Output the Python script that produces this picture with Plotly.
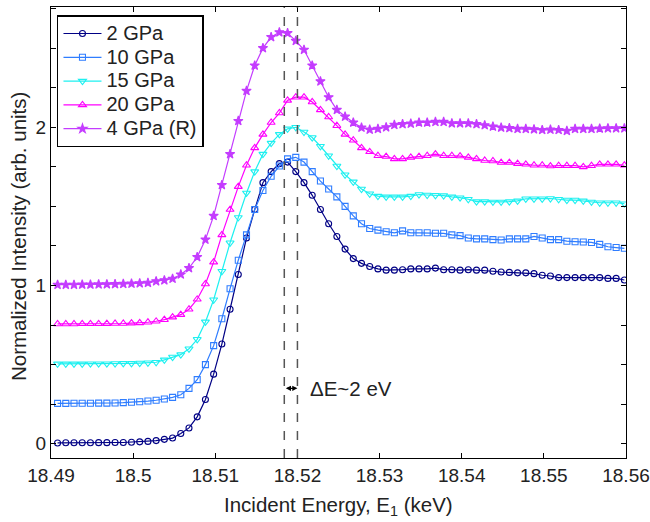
import plotly.graph_objects as go

# ---- data ----
energy_start = 18.4908
energy_step = 0.001
n_points = 70
energy = [round(energy_start + energy_step * i, 4) for i in range(n_points)]

gpa2 = [0.005, 0.006, 0.006, 0.006, 0.006, 0.007, 0.007, 0.008, 0.008, 0.010,
        0.012, 0.015, 0.020, 0.028, 0.036, 0.065, 0.10, 0.17, 0.28, 0.44,
        0.63, 0.85, 1.07, 1.30, 1.48, 1.65, 1.72, 1.77, 1.78, 1.72,
        1.65, 1.57, 1.48, 1.39, 1.31, 1.23, 1.17, 1.14, 1.12, 1.105,
        1.097, 1.097, 1.10, 1.105, 1.105, 1.105, 1.11, 1.10, 1.10, 1.097,
        1.10, 1.097, 1.097, 1.09, 1.085, 1.083, 1.08, 1.08, 1.075, 1.065,
        1.06, 1.05, 1.05, 1.05, 1.05, 1.05, 1.05, 1.045, 1.045, 1.035]

gpa10 = [0.255, 0.255, 0.256, 0.256, 0.256, 0.257, 0.257, 0.258, 0.260, 0.262,
         0.265, 0.270, 0.275, 0.283, 0.293, 0.31, 0.35, 0.405, 0.50, 0.62,
         0.79, 0.98, 1.16, 1.32, 1.48, 1.60, 1.69, 1.755, 1.80, 1.81,
         1.78, 1.72, 1.66, 1.61, 1.56, 1.50, 1.44, 1.39, 1.36, 1.35,
         1.34, 1.333, 1.345, 1.333, 1.333, 1.333, 1.33, 1.33, 1.32, 1.315,
         1.30, 1.295, 1.295, 1.29, 1.288, 1.295, 1.295, 1.295, 1.31, 1.30,
         1.29, 1.29, 1.28, 1.277, 1.275, 1.272, 1.26, 1.245, 1.24, 1.235]

gpa15 = [0.505, 0.505, 0.505, 0.505, 0.506, 0.506, 0.506, 0.507, 0.508, 0.508,
         0.510, 0.512, 0.515, 0.53, 0.548, 0.563, 0.60, 0.66, 0.77, 0.91,
         1.09, 1.27, 1.43, 1.585, 1.72, 1.83, 1.90, 1.955, 1.99, 2.00,
         1.97, 1.935, 1.88, 1.82, 1.755, 1.70, 1.655, 1.61, 1.58, 1.565,
         1.56, 1.56, 1.56, 1.565, 1.575, 1.572, 1.57, 1.568, 1.56, 1.555,
         1.545, 1.53, 1.53, 1.528, 1.528, 1.53, 1.535, 1.548, 1.548, 1.548,
         1.55, 1.545, 1.54, 1.54, 1.535, 1.528, 1.523, 1.523, 1.523, 1.517]

gpa20 = [0.757, 0.757, 0.757, 0.758, 0.758, 0.758, 0.759, 0.760, 0.760, 0.762,
         0.764, 0.768, 0.774, 0.784, 0.80, 0.816, 0.85, 0.913, 1.01, 1.148,
         1.32, 1.48, 1.625, 1.76, 1.87, 1.955, 2.03, 2.09, 2.17, 2.19,
         2.19, 2.16, 2.11, 2.065, 2.01, 1.955, 1.918, 1.87, 1.845, 1.82,
         1.815, 1.80, 1.80, 1.81, 1.815, 1.82, 1.83, 1.82, 1.82, 1.818,
         1.81, 1.80, 1.79, 1.787, 1.777, 1.777, 1.77, 1.766, 1.76, 1.76,
         1.755, 1.757, 1.757, 1.757, 1.75, 1.757, 1.766, 1.766, 1.766, 1.76]

gpa4r = [1.005, 1.005, 1.005, 1.006, 1.006, 1.007, 1.008, 1.009, 1.010, 1.012,
         1.014, 1.017, 1.027, 1.033, 1.043, 1.07, 1.11, 1.18, 1.29, 1.44,
         1.635, 1.83, 2.04, 2.23, 2.39, 2.50, 2.57, 2.60, 2.595, 2.546,
         2.49, 2.39, 2.29, 2.19, 2.11, 2.067, 2.03, 1.998, 1.985, 1.99,
         2.00, 2.015, 2.02, 2.023, 2.03, 2.03, 2.034, 2.034, 2.025, 2.025,
         2.025, 2.02, 2.013, 2.005, 1.998, 1.995, 1.99, 1.99, 1.987, 1.983,
         1.985, 1.983, 1.977, 1.99, 1.99, 1.99, 1.992, 1.994, 1.994, 1.994]

series_names = ["2 GPa", "10 GPa", "15 GPa", "20 GPa", "4 GPa (R)"]
series_values = [gpa2, gpa10, gpa15, gpa20, gpa4r]
series_colors = ["#000085", "#2F7DFF", "#1EF0F0", "#FF00FF", "#C43CFF"]
series_symbols = ["circle-open", "square-open", "triangle-down-open",
                  "triangle-up-open", "star"]
series_msize = [6, 6, 7, 7, 7]

x_tickvals = [18.49, 18.5, 18.51, 18.52, 18.53, 18.54, 18.55, 18.56]
x_ticktext = ["18.49", "18.5", "18.51", "18.52", "18.53", "18.54", "18.55", "18.56"]
y_tickvals = [0, 0.25, 0.5, 0.75, 1, 1.25, 1.5, 1.75, 2, 2.25, 2.5, 2.75]
y_ticktext = ["0", "", "", "", "1", "", "", "", "2", "", "", ""]

x_title = "Incident Energy, E<sub>1</sub> (keV)"
y_title = "Normalized Intensity (arb. units)"

peak_lines = [18.5184, 18.5200]
arrow_y = 0.35
delta_label = "ΔE~2 eV"

FONT = "Liberation Sans, Arial, Helvetica, sans-serif"
FS_TICK = 19
FS_TITLE = 20.5
TXT = "#222222"

fig = go.Figure()
for name, vals, col, sym, ms in zip(series_names, series_values, series_colors,
                                    series_symbols, series_msize):
    fig.add_trace(go.Scatter(
        x=energy, y=vals,
        name="<span style='font-size:20px'>" + name + "</span>",
        mode="lines+markers",
        line=dict(color=col, width=1.2),
        marker=dict(symbol=sym, size=ms, color=col,
                    line=dict(color=col, width=1.1)),
    ))

for xv in peak_lines:
    fig.add_shape(type="line", xref="x", yref="paper", x0=xv, x1=xv, y0=0, y1=1,
                  line=dict(color="#555555", width=1.5, dash="dash"), layer="above")

fig.add_annotation(x=peak_lines[1], y=arrow_y, ax=peak_lines[0], ay=arrow_y,
                   xref="x", yref="y", axref="x", ayref="y", text="",
                   showarrow=True, arrowhead=2, arrowside="end+start",
                   arrowsize=0.8, arrowwidth=1.3, arrowcolor="black",
                   startarrowhead=2, startarrowsize=0.8)
fig.add_annotation(x=peak_lines[1] + 0.0013, y=arrow_y, xref="x", yref="y",
                   text=delta_label, showarrow=False, xanchor="left", yanchor="middle",
                   font=dict(family=FONT, size=FS_TITLE, color=TXT))

# axis titles
fig.add_annotation(x=0.5, y=0, xref="paper", yref="paper", text=x_title,
                   showarrow=False, xanchor="center", yanchor="top", yshift=-33,
                   font=dict(family=FONT, size=FS_TITLE, color=TXT))
fig.add_annotation(x=0, y=0.49, xref="paper", yref="paper", text=y_title,
                   showarrow=False, xanchor="center", yanchor="middle", xshift=-33,
                   textangle=-90, font=dict(family=FONT, size=FS_TITLE, color=TXT))

axis_common = dict(showline=True, linecolor="black", linewidth=1.3, mirror="ticks",
                   ticks="inside", ticklen=5, tickwidth=1, tickcolor="black",
                   showgrid=False, zeroline=False, automargin=False,
                   tickfont=dict(family=FONT, size=FS_TICK, color=TXT))

fig.update_layout(
    width=650, height=522,
    margin=dict(l=51, r=24, t=7, b=64, autoexpand=False),
    paper_bgcolor="white", plot_bgcolor="white",
    font=dict(family=FONT, size=FS_TICK, color=TXT),
    xaxis=dict(range=[18.49, 18.56], tickvals=x_tickvals, ticktext=x_ticktext,
               **axis_common),
    yaxis=dict(range=[-0.09, 2.76], tickvals=y_tickvals, ticktext=y_ticktext,
               **axis_common),
    legend=dict(x=0.0104, y=0.982, xanchor="left", yanchor="top",
                bgcolor="white", bordercolor="black", borderwidth=1.5,
                font=dict(family=FONT, size=16, color=TXT),
                tracegroupgap=0, itemwidth=38),
    showlegend=True,
)

fig.write_html("out.html", config={"displayModeBar": False},
               post_script="document.body.style.margin='0';document.body.style.overflow='hidden';")
